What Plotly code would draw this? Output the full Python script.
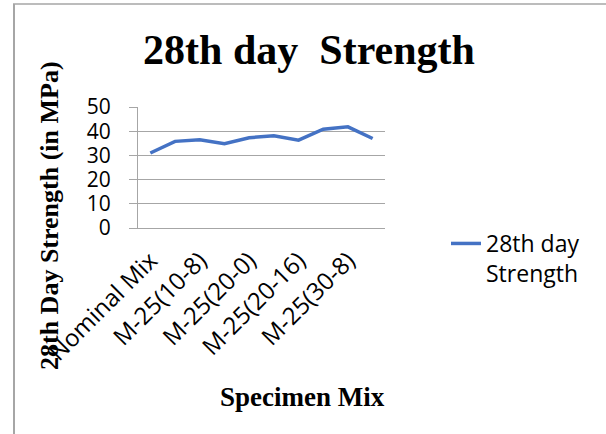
import plotly.graph_objects as go

# Specimen mixes and their 28-day compressive strength (MPa)
mixes = [
    "Nominal Mix", "M-25(10-0)", "M-25(10-8)", "M-25(10-16)", "M-25(20-0)",
    "M-25(20-8)", "M-25(20-16)", "M-25(30-0)", "M-25(30-8)", "M-25(30-16)",
]
strength_28 = [31.0, 35.8, 36.5, 34.8, 37.3, 38.1, 36.3, 40.8, 41.8, 37.0]
y_ticks = [0, 10, 20, 30, 40, 50]
shown_labels = mixes[::2]

W, H = 606, 434
L, R, T, B = 138, 221, 107, 206
pw, ph = W - L - R, H - T - B


def px_x(px):
    return (px - L) / pw


def px_y(py):
    return (H - B - py) / ph


AX_GREY = "#a6a6a6"
SERIF = "Liberation Serif"
SANS = "Open Sans"

fig = go.Figure()
fig.add_trace(go.Scatter(
    x=mixes, y=strength_28, mode="lines",
    name="28th day<br>Strength",
    line=dict(color="#4472C4", width=3.5),
))

fig.update_layout(
    width=W, height=H,
    margin=dict(l=L, r=R, t=T, b=B, pad=0),
    paper_bgcolor="white", plot_bgcolor="white",
    title=dict(text="<b>28th day\u00a0 Strength</b>",
               font=dict(family=SERIF, size=42, color="black"),
               x=309 / W, xanchor="center", y=1 - 49 / H, yanchor="middle"),
    showlegend=True,
    legend=dict(x=px_x(446), xanchor="left", y=px_y(222), yanchor="top",
                valign="top", font=dict(family=SANS, size=23, color="black"),
                bgcolor="rgba(0,0,0,0)"),
    xaxis=dict(type="category", range=[-0.5, len(mixes) - 0.5],
               tickmode="array", tickvals=shown_labels, ticktext=shown_labels,
               tickangle=-45, showgrid=False, ticks="",
               showline=True, linecolor=AX_GREY, linewidth=1,
               tickfont=dict(family=SANS, size=24, color="black"),
               ticklabelstandoff=8, fixedrange=True),
    yaxis=dict(range=[0, 50], tickvals=y_ticks, showgrid=True,
               gridcolor=AX_GREY, gridwidth=1, zeroline=False,
               showline=True, linecolor=AX_GREY, linewidth=1,
               ticks="outside", ticklen=8, tickcolor=AX_GREY,
               tickfont=dict(family=SANS, size=21, color="black"),
               ticklabelstandoff=14, fixedrange=True),
    annotations=[
        dict(text="<b>28th Day Strength (in MPa)</b>", textangle=-90,
             xref="paper", yref="paper", x=px_x(49), y=px_y(216),
             xanchor="center", yanchor="middle", showarrow=False,
             font=dict(family=SERIF, size=26, color="black")),
        dict(text="<b>Specimen Mix</b>",
             xref="paper", yref="paper", x=px_x(302), y=px_y(397),
             xanchor="center", yanchor="middle", showarrow=False,
             font=dict(family=SERIF, size=27, color="black")),
    ],
    shapes=[
        dict(type="line", xref="paper", yref="paper",
             x0=px_x(14), x1=px_x(14), y0=px_y(4), y1=px_y(H + 2),
             line=dict(color=AX_GREY, width=2)),
        dict(type="line", xref="paper", yref="paper",
             x0=px_x(13), x1=px_x(W + 2), y0=px_y(4), y1=px_y(4),
             line=dict(color=AX_GREY, width=1.5)),
    ],
)

fig.write_html("out.html", config={"displayModeBar": False})
